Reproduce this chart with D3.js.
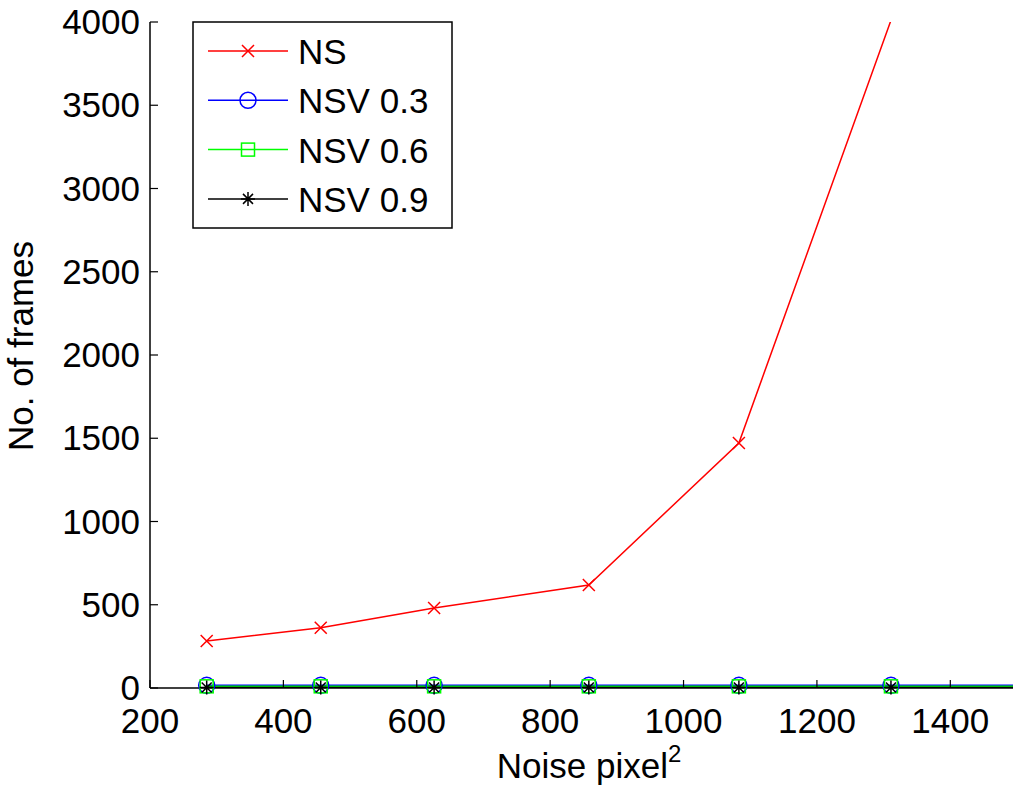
<!DOCTYPE html>
<html lang="en">
<head>
<meta charset="UTF-8">
<script src="https://d3js.org/d3.v7.min.js"></script>
<style>
  body { margin: 0; background: #fff; }
  text { font-family: "Liberation Sans", Arial, sans-serif; }
</style>
</head>
<body>
<div id="plot"></div>
<script>
// noise level (pixel^2) for each run
const noise = [285, 456, 626, 858, 1083, 1311, 1540];
const seriesNames = ["NS", "NSV 0.3", "NSV 0.6", "NSV 0.9"];
const nsFrames = [282, 362, 480, 619, 1471, 4010, 9000];
const nsv03Frames = [16, 16, 16, 16, 16, 16, 16];
const nsv06Frames = [10, 10, 10, 10, 10, 10, 10];
const nsv09Frames = [3, 3, 3, 3, 3, 3, 3];
const xTicks = [200, 400, 600, 800, 1000, 1200, 1400];
const yTicks = [0, 500, 1000, 1500, 2000, 2500, 3000, 3500, 4000];

function chart() {
  const width = 1013, height = 798;
  const left = 150, top = 22, bottom = 688, right = 1017;

  const colors = ["#ff0000", "#0000ff", "#00ff00", "#000000"];
  const markers = ["cross", "circle", "square", "star"];
  const values = [nsFrames, nsv03Frames, nsv06Frames, nsv09Frames];

  const x = d3.scaleLinear().domain([200, 1500]).range([left, right]);
  const y = d3.scaleLinear().domain([0, 4000]).range([bottom, top]);

  const svg = d3.select('#plot').append('svg')
      .attr('width', width)
      .attr('height', height);

  svg.append('clipPath').attr('id', 'clip')
    .append('rect')
      .attr('x', left).attr('y', top)
      .attr('width', right - left).attr('height', bottom - top);

  const series = seriesNames.map((name, i) => ({
    name: name,
    color: colors[i],
    marker: markers[i],
    points: noise.map((n, j) => ({x: n, y: values[i][j]}))
  }));

  // draws one marker at (0,0)
  function drawMarker(g, type, color) {
    if (type === 'cross') {
      g.append('path').attr('d', 'M-6,-6L6,6M-6,6L6,-6')
        .attr('stroke', color).attr('stroke-width', 1.5).attr('fill', 'none');
    } else if (type === 'circle') {
      g.append('circle').attr('r', 8)
        .attr('stroke', color).attr('stroke-width', 1.5).attr('fill', 'none');
    } else if (type === 'square') {
      g.append('rect').attr('x', -6.5).attr('y', -6.5).attr('width', 13).attr('height', 13)
        .attr('stroke', color).attr('stroke-width', 1.5).attr('fill', 'none');
    } else {
      g.append('path').attr('d', 'M-7,0L7,0M0,-7L0,7M-5,-5L5,5M-5,5L5,-5')
        .attr('stroke', color).attr('stroke-width', 1.5).attr('fill', 'none');
    }
  }

  const line = d3.line().x(d => x(d.x)).y(d => y(d.y));

  // series lines, clipped to the axes area
  const lines = svg.append('g').attr('clip-path', 'url(#clip)');
  series.forEach(s => {
    lines.append('path')
      .datum(s.points)
      .attr('d', line)
      .attr('fill', 'none')
      .attr('stroke', s.color)
      .attr('stroke-width', 1.5);
  });

  // axes
  const axes = svg.append('g');
  axes.append('line').attr('x1', left).attr('x2', left).attr('y1', top).attr('y2', bottom)
    .attr('stroke', '#000').attr('stroke-width', 1.5);
  axes.append('line').attr('x1', left).attr('x2', right).attr('y1', bottom).attr('y2', bottom)
    .attr('stroke', '#000').attr('stroke-width', 1.5);

  yTicks.forEach(t => {
    axes.append('line').attr('x1', left).attr('x2', left + 8).attr('y1', y(t)).attr('y2', y(t))
      .attr('stroke', '#000').attr('stroke-width', 1.2);
    axes.append('text').attr('x', left - 10).attr('y', y(t) + 12)
      .attr('text-anchor', 'end').attr('font-size', 35).text(t);
  });
  xTicks.forEach(t => {
    axes.append('line').attr('x1', x(t)).attr('x2', x(t)).attr('y1', bottom).attr('y2', bottom - 8)
      .attr('stroke', '#000').attr('stroke-width', 1.2);
    axes.append('text').attr('x', x(t)).attr('y', bottom + 45)
      .attr('text-anchor', 'middle').attr('font-size', 35).text(t);
  });

  // markers (only points inside the axes limits)
  series.forEach(s => {
    s.points.filter(p => p.x <= 1500 && p.y <= 4000).forEach(p => {
      const g = svg.append('g').attr('transform', `translate(${x(p.x)},${y(p.y)})`);
      drawMarker(g, s.marker, s.color);
    });
  });

  // axis labels
  const xl = svg.append('text').attr('x', 589).attr('y', 778)
    .attr('text-anchor', 'middle').attr('font-size', 35);
  xl.append('tspan').text('Noise pixel');
  xl.append('tspan').attr('font-size', 24).attr('dy', -16).text('2');

  svg.append('text')
    .attr('transform', `translate(33, 346) rotate(-90)`)
    .attr('text-anchor', 'middle').attr('font-size', 35)
    .text('No. of frames');

  // legend
  const legend = svg.append('g');
  legend.append('rect').attr('x', 193).attr('y', 22).attr('width', 259).attr('height', 206)
    .attr('fill', '#fff').attr('stroke', '#000').attr('stroke-width', 1.5);
  series.forEach((s, i) => {
    const ly = 51 + i * 49.3;
    legend.append('line').attr('x1', 208).attr('x2', 288).attr('y1', ly).attr('y2', ly)
      .attr('stroke', s.color).attr('stroke-width', 1.5);
    drawMarker(legend.append('g').attr('transform', `translate(248,${ly})`), s.marker, s.color);
    legend.append('text').attr('x', 298).attr('y', ly + 13).attr('font-size', 35).text(s.name);
  });
}

chart();
</script>
</body>
</html>
